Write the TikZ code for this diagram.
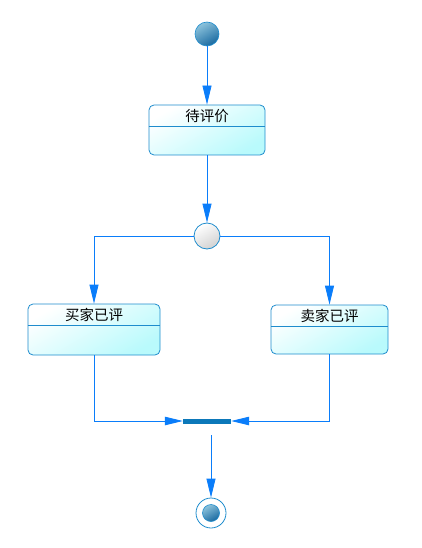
\documentclass[tikz,border=0pt]{standalone}
\usepackage{fontspec}
\newfontfamily\cjk{Noto Sans CJK SC}
\usetikzlibrary{arrows.meta}
\definecolor{lnblue}{RGB}{10,125,250}
\definecolor{bdblue}{RGB}{30,140,205}
\definecolor{stcyan}{RGB}{185,250,252}
\definecolor{barblue}{RGB}{12,120,185}
\definecolor{balllight}{RGB}{140,195,220}
\definecolor{balldark}{RGB}{25,105,160}
\tikzset{
  arr/.style={draw=lnblue, line width=0.8pt, -{Triangle[length=19pt,width=9pt]}},
  statebox/.style={draw=bdblue, line width=0.8pt, rounded corners=5pt, rectangle,
    top color=white, bottom color=stcyan, shading angle=30, inner sep=0pt},
  divider/.style={draw=bdblue, line width=0.8pt},
  stlabel/.style={font=\cjk\fontsize{14.5}{16}\selectfont, inner sep=0pt},
  ball/.style={circle, inner sep=0pt, draw=bdblue, line width=0.6pt,
    top color=balllight, bottom color=balldark, shading angle=30},
  decision/.style={circle, draw=bdblue, line width=0.8pt, inner sep=0pt,
    minimum size=26pt, top color=white, bottom color=black!18, shading angle=30},
}
\begin{document}
\begin{tikzpicture}[x=1pt,y=-1pt]
\useasboundingbox (0,0) rectangle (421,548);
% start
\node[ball, minimum size=24pt] (start) at (207,34) {};
% state 1
\node[statebox, minimum width=116pt, minimum height=50pt] (s1) at (207,130) {};
\node[stlabel] (l1) at (207,116) {待评价};
\draw[divider] ([yshift=-22pt]s1.north west) -- ([yshift=-22pt]s1.north east);
% decision
\node[decision] (dec) at (207,236) {};
% state 2
\node[statebox, minimum width=132pt, minimum height=51pt] (s2) at (94,329.5) {};
\node[stlabel] (l2) at (94,315) {买家已评};
\draw[divider] ([yshift=-22pt]s2.north west) -- ([yshift=-22pt]s2.north east);
% state 3
\node[statebox, minimum width=117pt, minimum height=49pt] (s3) at (329.5,329.5) {};
\node[stlabel] (l3) at (329.5,316) {卖家已评};
\draw[divider] ([yshift=-22pt]s3.north west) -- ([yshift=-22pt]s3.north east);
% join bar
\node[rectangle, fill=barblue, minimum width=48pt, minimum height=5pt, inner sep=0pt] (bar) at (207,421) {};
\coordinate (barout) at (211,435);
% end
\node[circle, draw=bdblue, line width=0.8pt, minimum size=30pt, inner sep=0pt, fill=white] (end) at (211,513) {};
\node[ball, minimum size=17pt] (endin) at (end.center) {};
% connectors
\draw[arr] (start) -- (s1);
\draw[arr] (s1) -- (dec);
\draw[arr] (dec.west) -| (s2.north);
\draw[arr] (dec.east) -| (s3.north);
\draw[arr, -{Triangle[length=18pt,width=8.5pt]}] (s2.south) |- (bar.west);
\draw[arr, -{Triangle[length=18pt,width=8.5pt]}] (s3.south) |- (bar.east);
\draw[arr] (barout) -- (end);
\end{tikzpicture}
\end{document}
